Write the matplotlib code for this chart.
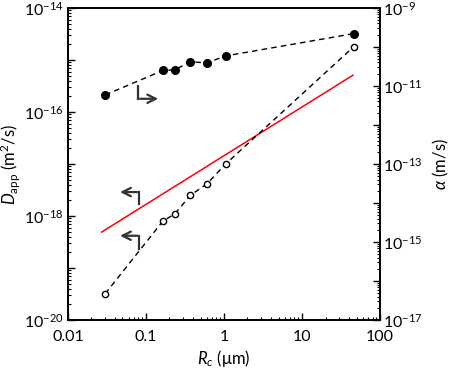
import matplotlib
matplotlib.use("Agg")
import matplotlib.pyplot as plt
from matplotlib.ticker import LogLocator, FixedLocator, NullFormatter
import numpy as np

plt.rcParams['font.family'] = ['Lato', 'DejaVu Sans']
plt.rcParams['mathtext.fontset'] = 'custom'
plt.rcParams['mathtext.rm'] = 'Lato'
plt.rcParams['mathtext.it'] = 'Lato:italic'
plt.rcParams['mathtext.bf'] = 'Lato:bold'

# apparent diffusivity (left axis), open circles
rc_open = [0.03, 0.165, 0.235, 0.37, 0.60, 1.05, 46]
d_app = [3.2e-20, 8.0e-19, 1.1e-18, 2.5e-18, 4.1e-18, 1.0e-17, 1.8e-15]

# alpha (right axis), filled circles
rc_fill = [0.03, 0.165, 0.235, 0.37, 0.60, 1.05, 46]
alpha = [5.9e-12, 2.5e-11, 2.6e-11, 4.2e-11, 3.9e-11, 5.9e-11, 2.2e-10]

# red reference line (left axis)
rc_red = [0.027, 45]
d_red = [4.9e-19, 5.1e-16]

left_ticks = [1e-20, 1e-19, 1e-18, 1e-17, 1e-16, 1e-15, 1e-14]
right_ticks = [1e-17, 1e-16, 1e-15, 1e-14, 1e-13, 1e-12, 1e-11, 1e-10, 1e-9]
x_ticks = [0.01, 0.1, 1, 10, 100]
x_labels = ['0.01', '0.1', '1', '10', '100']


def exp_label(v, keep_every=2, base_exp=0):
    e = int(round(np.log10(v)))
    if (e - base_exp) % keep_every:
        return ''
    return r'$10^{%d}$' % e


fig = plt.figure(figsize=(4.53, 3.71), dpi=100)
ax = fig.add_axes([0.150, 0.1375, 0.689, 0.841])
ax2 = ax.twinx()

fs = 12
tfs = 11.5
ax.set_xscale('log')
ax.set_yscale('log')
ax.set_xlim(0.01, 100)
ax.set_ylim(1e-20, 1e-14)
ax2.set_yscale('log')
ax2.set_ylim(1e-17, 1e-9)

ax.plot(rc_open, d_app, color='black', ls=(0, (4, 3)), lw=1.0, marker='o',
        ms=4.5, mfc='white', mec='black', mew=1.0, zorder=3)
ax.plot(rc_red, d_red, color='red', lw=1.1, zorder=2)
ax2.plot(rc_fill, alpha, color='black', ls=(0, (4, 3)), lw=1.0, marker='o',
         ms=5.5, mfc='black', mec='black', zorder=3)

# x axis
ax.xaxis.set_major_locator(FixedLocator(x_ticks))
ax.set_xticklabels(x_labels)
ax.xaxis.set_minor_locator(LogLocator(base=10, subs=np.arange(2, 10)))
ax.xaxis.set_minor_formatter(NullFormatter())

# left axis
ax.yaxis.set_major_locator(FixedLocator(left_ticks))
ax.set_yticklabels([exp_label(v, 2, -14) for v in left_ticks])
ax.yaxis.set_minor_locator(LogLocator(base=10, subs=np.arange(2, 10), numticks=20))
ax.yaxis.set_minor_formatter(NullFormatter())

# right axis
ax2.yaxis.set_major_locator(FixedLocator(right_ticks))
ax2.set_yticklabels([exp_label(v, 2, -9) for v in right_ticks])
ax2.yaxis.set_minor_locator(LogLocator(base=10, subs=np.arange(2, 10), numticks=20))
ax2.yaxis.set_minor_formatter(NullFormatter())

ax.tick_params(axis='both', which='major', direction='in', length=5, width=1,
               labelsize=tfs, top=False, right=False)
ax.tick_params(axis='x', which='major', pad=7)
ax.tick_params(axis='y', which='major', pad=3)
ax.tick_params(axis='both', which='minor', direction='in', length=2.5, width=0.8,
               top=False, right=False)
ax2.tick_params(axis='y', which='major', direction='in', length=5, width=1,
                labelsize=tfs, pad=2)
ax2.tick_params(axis='y', which='minor', direction='in', length=2.5, width=0.8)

for a in (ax, ax2):
    for s in a.spines.values():
        s.set_linewidth(1.3)

ax.set_xlabel(r'$R_c$ ($\mathrm{\mu}$m)', fontsize=fs, labelpad=3)
ax.set_ylabel(r'$D_{\mathrm{app}}$ (m$^2$/s)', fontsize=fs, labelpad=1)
ax2.set_ylabel(r'$\alpha$ (m/s)', fontsize=fs, labelpad=6)

# direction arrows (axes fraction coordinates)
arrow_kw = dict(arrowstyle='->', color='#333333', lw=1.6, mutation_scale=15)
# right-pointing arrow for alpha
ax.plot([0.225, 0.225], [0.75, 0.709], color='#333333', lw=1.6, transform=ax.transAxes)
ax.annotate('', xy=(0.298, 0.709), xytext=(0.222, 0.709), xycoords='axes fraction',
            arrowprops=arrow_kw)
# left-pointing arrows for D
for ytop, ybot in [(0.410, 0.371), (0.270, 0.229)]:
    ax.plot([0.228, 0.228], [ytop, ybot], color='#333333', lw=1.6, transform=ax.transAxes)
    ax.annotate('', xy=(0.158, ytop), xytext=(0.231, ytop), xycoords='axes fraction',
                arrowprops=arrow_kw)

fig.savefig('out.png', dpi=100)
